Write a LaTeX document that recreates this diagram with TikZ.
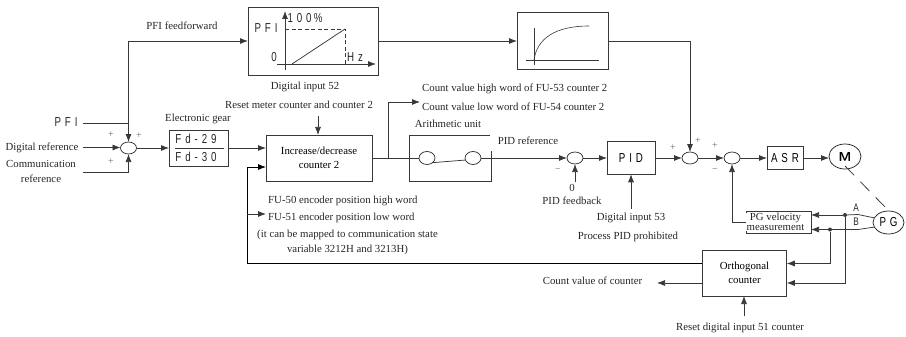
\documentclass[tikz,border=0pt]{standalone}
\usepackage{fontspec}
\setmainfont{Liberation Serif}
\newfontfamily\widefont[LetterSpace=30,FakeStretch=0.75]{Liberation Sans}
\usetikzlibrary{arrows.meta,shapes.geometric,positioning}
\colorlet{linecol}{black!78}
\tikzset{
  flow/.style={draw=linecol,line width=0.75pt,-{Latex[length=8pt,width=6pt]}},
  wire/.style={draw=linecol,line width=0.75pt},
  blockbox/.style={draw=linecol,line width=0.75pt,inner sep=0pt,outer sep=0pt,align=center,font=\fontsize{10.8}{14}\selectfont},
  sumnode/.style={draw=black!85,ellipse,line width=0.7pt,minimum width=16pt,minimum height=12pt,inner sep=0pt,outer sep=0pt},
  labeltext/.style={inner sep=0pt,align=center,text=black!85,font=\fontsize{10.8}{15}\selectfont},
  widetext/.style={inner sep=0pt,text=black!85,font=\fontsize{13}{14}\widefont},
  signtext/.style={inner sep=0pt,text=black!60,font=\fontsize{10}{11}\selectfont},
  dotnode/.style={circle,fill=linecol,minimum size=4pt,inner sep=0pt,outer sep=0pt}
}
\begin{document}
\begin{tikzpicture}[x=1pt,y=-1pt]
\useasboundingbox (0,0) rectangle (906,337);

\node[widetext] (pfilabel) at (66,122) {PFI};
\node[labeltext] (digitalref) at (42,148) {Digital reference};
\node[labeltext] (commref) at (41,171) {Communication\\reference};
\node[labeltext] (feedlabel) at (182,26) {PFI feedforward};
\node[labeltext] (gearlabel) at (198,119) {Electronic gear};
\node[labeltext] (digital52) at (305,87) {Digital input 52};
\node[labeltext] (resetmeter) at (299,105) {Reset meter counter and counter 2};
\node[labeltext,anchor=west] (highword) at (422,89) {Count value high word of FU-53 counter 2};
\node[labeltext,anchor=west] (lowword) at (422,107) {Count value low word of FU-54 counter 2};
\node[labeltext] (arithlabel) at (448,124) {Arithmetic unit};
\node[labeltext] (pidref) at (528,141) {PID reference};
\node[labeltext] (zerolabel) at (572,188) {0};
\node[labeltext] (pidfeed) at (572,201) {PID feedback};
\node[labeltext] (digital53) at (631,218) {Digital input 53};
\node[labeltext] (pidprohib) at (628,237) {Process PID prohibited};
\node[labeltext,anchor=west] (fuhigh) at (268,201) {FU-50 encoder position high word};
\node[labeltext,anchor=west] (fulow) at (268,218) {FU-51 encoder position low word};
\node[labeltext] (mapped) at (347.5,242.5) {(it can be mapped to communication state\\variable 3212H and 3213H)};
\node[labeltext] (countlabel) at (592.5,281) {Count value of counter};
\node[labeltext] (resetorth) at (740,328) {Reset digital input 51 counter};

\node[signtext] (plusa) at (111,135) {+};
\node[signtext] (plusb) at (139,136) {+};
\node[signtext] (plusc) at (111,162) {+};
\node[signtext] (plusd) at (673,148) {+};
\node[signtext] (pluse) at (698,141) {+};
\node[signtext] (plusf) at (715,146) {+};
\node[signtext] (minusa) at (558,171) {−};
\node[signtext] (minusb) at (715,171) {−};

\node[sumnode] (sumin) at (128.5,148) {};
\node[sumnode] (sumpid) at (575,158) {};
\node[sumnode] (sumff) at (690,158) {};
\node[sumnode] (sumasr) at (732,158) {};

\node[blockbox,minimum width=59pt,minimum height=36pt] (gearbox) at (198.5,148) {};
\node[widetext] (gearup) at (196,138.5) {Fd-29};
\node[widetext] (geardown) at (196,156.5) {Fd-30};
\node[blockbox,minimum width=106pt,minimum height=46pt] (counterbox) at (319,158) {Increase/decrease\\counter 2};
\node[blockbox,minimum width=130pt,minimum height=68pt] (pfibox) at (313,41) {};
\node[blockbox,minimum width=91pt,minimum height=57.5pt] (rampbox) at (562.5,41) {};
\node[blockbox,minimum width=48pt,minimum height=32.5pt,font=\fontsize{13}{14}\widefont] (pidbox) at (631,158) {PID};
\node[blockbox,minimum width=36pt,minimum height=22.5pt,font=\fontsize{13}{14}\widefont] (asrbox) at (785,158) {ASR};
\node[blockbox,minimum width=65pt,minimum height=22pt] (velbox) at (778.5,222) {};
\node[labeltext,fill=white,minimum width=60pt,font=\fontsize{10.8}{10.4}\selectfont] (veltext) at (775.5,221.9) {PG velocity\\measurement};
\node[blockbox,minimum width=84.5pt,minimum height=46pt] (orthbox) at (744.5,273) {Orthogonal\\counter};

\node[draw=black!85,ellipse,line width=0.75pt,minimum width=32pt,minimum height=25pt,inner sep=0pt,outer sep=0pt,font=\sffamily\bfseries\fontsize{13}{14}\selectfont] (motor) at (845,156.5) {M};
\node[draw=black!85,ellipse,line width=0.75pt,minimum width=31pt,minimum height=23pt,inner sep=0pt,outer sep=0pt,font=\fontsize{13}{14}\widefont] (pgnode) at (888.5,222.5) {PG};
\node[inner sep=0pt,text=black!85,font=\fontsize{11}{12}\widefont] (chana) at (856,208) {A};
\node[inner sep=0pt,text=black!85,font=\fontsize{11}{12}\widefont] (chanb) at (856,222) {B};

\node[sumnode,minimum height=13pt] (swleft) at (427,158) {};
\node[sumnode,minimum height=13pt] (swright) at (473,158) {};

\coordinate (arithtl) at (409,135);
\coordinate (arithtr) at (490,135);
\coordinate (arithbl) at (409,181);
\coordinate (arithbr) at (491,181);
\coordinate (arithgap) at (491,151);
\draw[wire] (arithtr) -- (arithtl) -- (arithbl) -- (arithbr) -- (arithgap);
\draw[wire] (swleft.-40) -- (swright.195);

\draw[wire] (175,148) -- (224,148);

\draw[flow] (285,70) -- (285,11);
\draw[flow] (277,64) -- (376,64);
\draw[wire] (292,64) -- (345,29);
\draw[wire,dashed,dash pattern=on 4pt off 2.5pt] (285,29) -- (345,29) -- (345,64);
\node[widetext] (pfiaxis) at (266,28) {PFI};
\node[widetext] (hundred) at (305,18) {100\,\%};
\node[widetext] (zeroaxis) at (274,57) {0};
\node[widetext] (hzaxis) at (355,57) {Hz};

\draw[wire,line width=0.6pt] (534,28) -- (534,65);
\draw[wire,line width=0.6pt] (526,60) -- (599,60);
\draw[wire,line width=0.6pt] (534,60) .. controls (537,38) and (556,26) .. (589,26);

\coordinate (pfiout) at (83,123);
\coordinate (pfijoin) at (128.5,123);
\coordinate (feedtop) at (128.5,41);
\coordinate (digout) at (83,147.5);
\coordinate (commout) at (83,172);
\coordinate (commturn) at (128.5,172);
\draw[wire] (pfiout) -- (pfijoin);
\draw[wire] (pfijoin) -- (feedtop);
\draw[flow] (feedtop) -- (pfibox.west);
\draw[flow] (pfijoin) -- (sumin.north);
\draw[flow] (digout) -- (digout -| sumin.west);
\draw[wire] (commout) -- (commturn);
\draw[flow] (commturn) -- (sumin.south);
\draw[flow] (sumin.east) -- (gearbox.west);
\draw[flow] (gearbox.east) -- (gearbox.east -| counterbox.west);

\coordinate (resettop) at (318,116);
\draw[flow] (resettop) -- (resettop |- counterbox.north);
\coordinate (countbranch) at (388,158);
\coordinate (countup) at (388,102);
\coordinate (counttip) at (420,102);
\draw[wire] (counterbox.east) -- (swleft.west);
\draw[flow] (countbranch) -- (countup) -- (counttip);
\draw[flow] (swright.east) -- (sumpid.west);
\coordinate (zerotop) at (575,182);
\draw[flow] (zerotop) -- (sumpid.south);
\draw[flow] (sumpid.east) -- (pidbox.west);
\coordinate (pidbottom) at (631,209);
\draw[flow] (pidbottom) -- (pidbox.south);
\draw[flow] (pidbox.east) -- (sumff.west);
\draw[flow] (pfibox.east) -- (rampbox.west);
\draw[flow] (rampbox.east) -| (sumff.north);
\draw[flow] (sumff.east) -- (sumasr.west);
\draw[flow] (sumasr.east) -- (asrbox.west);
\draw[flow] (asrbox.east) -- (motor.west |- asrbox.east);
\draw[flow] (velbox.west) -| (sumasr.south);

\coordinate (shaftstart) at (845,166);
\coordinate (shaftend) at (888,210);
\draw[wire,dash pattern=on 13pt off 9pt] (shaftstart) -- (shaftend);

\node[dotnode] (dota) at (845,215) {};
\node[dotnode] (dotb) at (830,229.5) {};
\coordinate (bendA) at (858,214.5);
\coordinate (bendB) at (858,229.5);
\draw[wire] (pgnode.162) -- (bendA) -- (dota);
\draw[wire] (pgnode.198) -- (bendB) -- (dotb);
\draw[flow] (dota) -- (dota -| velbox.east);
\draw[flow] (dotb) -- (dotb -| velbox.east);
\coordinate (orthina) at (786.75,283);
\coordinate (orthinb) at (786.75,263.5);
\draw[flow] (dota) |- (orthina);
\draw[flow] (dotb) |- (orthinb);

\coordinate (orthout) at (702.25,263.5);
\coordinate (fbturn) at (247,263.5);
\coordinate (fbbranch) at (247,214);
\coordinate (fbtip) at (266,214);
\coordinate (counterin) at (266,167);
\draw[flow,draw=black] (orthout) -- (fbturn) |- (counterin);
\draw[flow] (fbbranch) -- (fbtip);
\coordinate (orthleft) at (702.25,283);
\coordinate (counttail) at (657,283);
\draw[flow] (orthleft) -- (counttail);
\coordinate (orthreset) at (744,316);
\draw[flow] (orthreset) -- (orthbox.south -| orthreset);
\end{tikzpicture}
\end{document}
